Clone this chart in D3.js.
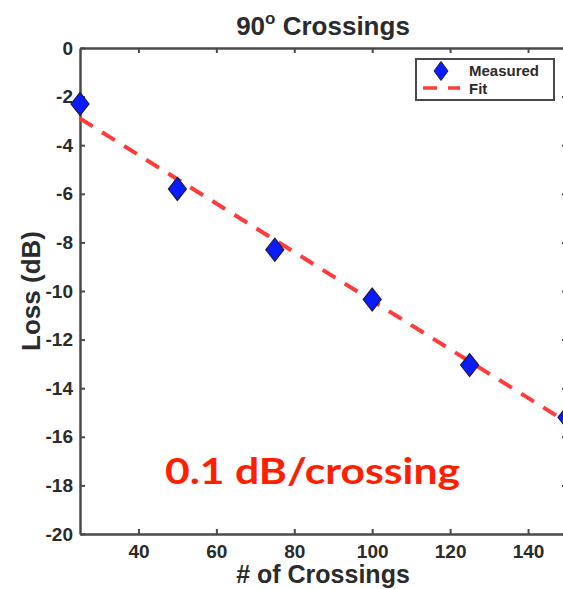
<!DOCTYPE html>
<html><head><meta charset="utf-8">
<script src="https://cdn.jsdelivr.net/npm/d3@7"></script>
<style>html,body{margin:0;padding:0;background:#fff;overflow:hidden}</style>
</head><body>
<svg id="c" width="563" height="589"></svg>
<script>
const crossings = [25, 50, 75, 100, 125, 150];
const measuredLoss = [-2.3, -5.8, -8.3, -10.35, -13.05, -15.2];
const fitX = [25, 150];
const fitY = [-2.9, -15.4];
const xTicks = [40, 60, 80, 100, 120, 140];
const yTicks = [0, -2, -4, -6, -8, -10, -12, -14, -16, -18, -20];

const svg = d3.select('#c');
const L = 80, R = 567, T = 48, B = 534;
const x = d3.scaleLinear().domain([25, 150]).range([L, R]);
const y = d3.scaleLinear().domain([-20, 0]).range([B, T]);
const axisColor = '#4a4a4a', textColor = '#2b2b2b';
const font = '"Liberation Sans", Arial, Helvetica, sans-serif';

function styleAxis(g, hideLabels) {
  g.select('.domain').attr('stroke', axisColor).attr('stroke-width', 2.5);
  g.selectAll('.tick line').attr('stroke', axisColor).attr('stroke-width', 2);
  g.selectAll('.tick text').attr('fill', textColor).attr('font-family', font)
    .attr('font-weight', 'bold').attr('font-size', 19);
  if (hideLabels) g.selectAll('.tick text').remove();
}
const xb = svg.append('g').attr('transform', `translate(0,${B})`)
  .call(d3.axisBottom(x).tickValues(xTicks).tickSizeInner(-5).tickSizeOuter(0));
styleAxis(xb);
xb.selectAll('.tick text').attr('dy', null).attr('y', 24);
const xt = svg.append('g').attr('transform', `translate(0,${T})`)
  .call(d3.axisTop(x).tickValues(xTicks).tickSizeInner(-5).tickSizeOuter(0));
styleAxis(xt, true);
const yl = svg.append('g').attr('transform', `translate(${L},0)`)
  .call(d3.axisLeft(y).tickValues(yTicks).tickSizeInner(-5).tickSizeOuter(0).tickPadding(7).tickFormat(d3.format('d')));
styleAxis(yl);
yl.selectAll('.tick text').text(d => String(d).replace('−', '-'));
const yr = svg.append('g').attr('transform', `translate(${R},0)`)
  .call(d3.axisRight(y).tickValues(yTicks).tickSizeInner(-5).tickSizeOuter(0));
styleAxis(yr, true);

// fit line
svg.append('line')
  .attr('x1', x(fitX[0])).attr('y1', y(fitY[0]))
  .attr('x2', x(fitX[1])).attr('y2', y(fitY[1]))
  .attr('stroke', '#ff3b3b').attr('stroke-width', 4)
  .attr('stroke-dasharray', '15,11');

// diamonds
const diamond = (cx, cy, w, h) => `M${cx},${cy - h}L${cx + w},${cy}L${cx},${cy + h}L${cx - w},${cy}Z`;
svg.append('g').selectAll('path').data(crossings).join('path')
  .attr('d', (d, i) => diamond(x(d), y(measuredLoss[i]), 9, 11.5))
  .attr('fill', '#0a1cff').attr('stroke', '#1b1b40').attr('stroke-width', 1.2);

// legend
const lg = svg.append('g');
lg.append('rect').attr('x', 416).attr('y', 59).attr('width', 138).attr('height', 41)
  .attr('fill', '#fff').attr('stroke', axisColor).attr('stroke-width', 2);
lg.append('path').attr('d', diamond(441, 71, 7, 9.5))
  .attr('fill', '#0a1cff').attr('stroke', '#1b1b40').attr('stroke-width', 1);
lg.append('line').attr('x1', 423).attr('x2', 460).attr('y1', 88).attr('y2', 88)
  .attr('stroke', '#ff3b3b').attr('stroke-width', 3.5).attr('stroke-dasharray', '14,11');
lg.append('text').attr('x', 469).attr('y', 76).text('Measured')
  .attr('font-family', font).attr('font-weight', 'bold').attr('font-size', 15).attr('fill', textColor);
lg.append('text').attr('x', 469).attr('y', 94).text('Fit')
  .attr('font-family', font).attr('font-weight', 'bold').attr('font-size', 15).attr('fill', textColor);

// title
const title = svg.append('text').attr('x', 323).attr('y', 35).attr('text-anchor', 'middle')
  .attr('font-family', font).attr('font-weight', 'bold').attr('font-size', 26).attr('fill', textColor);
title.append('tspan').text('90');
title.append('tspan').text('o').attr('font-size', 17).attr('dy', -11);
title.append('tspan').text(' Crossings').attr('dy', 11);

// axis labels
svg.append('text').attr('x', 323).attr('y', 583).attr('text-anchor', 'middle')
  .attr('font-family', font).attr('font-weight', 'bold').attr('font-size', 25).attr('fill', textColor)
  .text('# of Crossings');
svg.append('text').attr('transform', `translate(40,${(T + B) / 2}) rotate(-90)`).attr('text-anchor', 'middle')
  .attr('font-family', font).attr('font-weight', 'bold').attr('font-size', 26).attr('fill', textColor)
  .text('Loss (dB)');

// annotation
svg.append('text').attr('x', 165).attr('y', 484)
  .attr('font-family', 'Lato, "Open Sans", sans-serif').attr('font-weight', 'bold').attr('font-size', 37)
  .attr('textLength', 295).attr('lengthAdjust', 'spacingAndGlyphs')
  .attr('fill', '#ff1e00').text('0.1 dB/crossing');
</script>
</body></html>
